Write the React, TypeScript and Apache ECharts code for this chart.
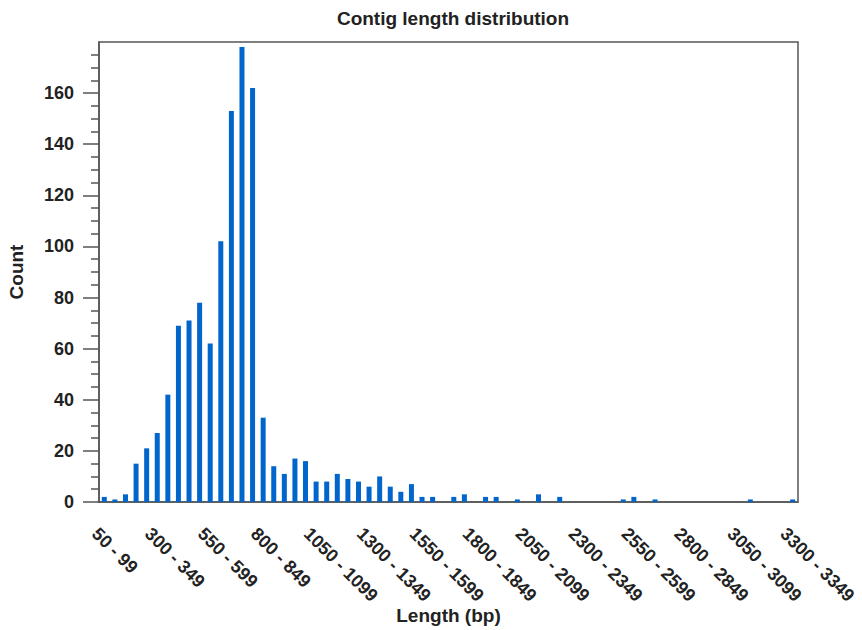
import React, { useEffect, useRef } from "react";
import * as echarts from "echarts";

const binStarts: number[] = [];
for (let s = 50; s <= 3300; s += 50) binStarts.push(s);
const categories: string[] = binStarts.map((s) => `${s} - ${s + 49}`);

const counts: number[] = [
  2, 1, 3, 15, 21, 27, 42, 69, 71, 78,
  62, 102, 153, 178, 162, 33, 14, 11, 17, 16,
  8, 8, 11, 9, 8, 6, 10, 6, 4, 7,
  2, 2, 0, 2, 3, 0, 2, 2, 0, 1,
  0, 3, 0, 2, 0, 0, 0, 0, 0, 1,
  2, 0, 1, 0, 0, 0, 0, 0, 0, 0,
  0, 1, 0, 0, 0, 1,
];

const yTickValues: number[] = [0, 20, 40, 60, 80, 100, 120, 140, 160];

const FONT = "'Liberation Sans', Arial, sans-serif";

export default function App() {
  const ref = useRef<HTMLDivElement>(null);
  useEffect(() => {
    if (!ref.current) return;
    const chart = echarts.init(ref.current, undefined, { renderer: "svg" });
    chart.setOption({
      animation: false,
      backgroundColor: "#ffffff",
      title: {
        text: "Contig length distribution",
        left: 448,
        textAlign: "center",
        top: 4,
        textStyle: { fontFamily: FONT, fontSize: 19, fontWeight: "bold", color: "#222" },
      },
      grid: {
        left: 99,
        right: 64,
        top: 42,
        bottom: 128,
        outerBoundsMode: "none",
        containLabel: false,
        show: true,
        borderColor: "#555",
        borderWidth: 1.5,
        backgroundColor: "transparent",
      },
      xAxis: {
        type: "category",
        data: categories,
        name: "Length (bp)",
        nameLocation: "middle",
        nameGap: 104,
        nameMoveOverlap: false,
        nameTextStyle: { fontFamily: FONT, fontSize: 19, fontWeight: "bold", color: "#222" },
        axisLine: { lineStyle: { color: "#555", width: 1.5 } },
        axisTick: { show: false },
        axisLabel: {
          interval: 4,
          rotate: -45,
          margin: 38,
          padding: [0, 0, 0, -13],
          fontFamily: FONT,
          fontSize: 18,
          fontWeight: "bold",
          color: "#222",
        },
      },
      yAxis: {
        type: "value",
        min: 0,
        max: 180,
        interval: 20,
        name: "Count",
        nameLocation: "middle",
        nameGap: 73,
        nameMoveOverlap: false,
        nameTextStyle: { fontFamily: FONT, fontSize: 19, fontWeight: "bold", color: "#222" },
        axisLine: { show: true, lineStyle: { color: "#555", width: 1.5 } },
        axisTick: { show: true, length: 16, customValues: yTickValues, lineStyle: { color: "#555", width: 1.5 } },
        minorTick: { show: true, splitNumber: 4, length: 8, lineStyle: { color: "#555", width: 1.5 } },
        splitLine: { show: false },
        axisLabel: {
          customValues: yTickValues,
          margin: 25,
          fontFamily: FONT,
          fontSize: 18,
          fontWeight: "bold",
          color: "#222",
          formatter: (v: number) => (v >= 180 ? "" : String(v)),
        },
      },
      series: [
        {
          type: "bar",
          data: counts,
          barWidth: 5,
          itemStyle: { color: "#0066cc" },
        },
      ],
    });
    return () => chart.dispose();
  }, []);
  return (
    <div
      ref={ref}
      style={{ position: "absolute", left: 0, top: 0, width: 862, height: 630 }}
    />
  );
}
